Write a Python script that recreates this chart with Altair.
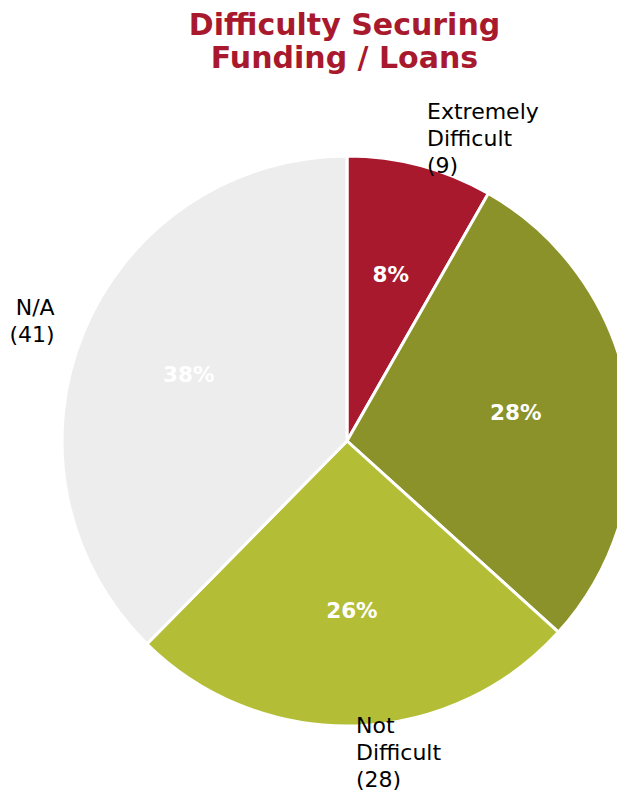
import altair as alt
import pandas as pd

categories = ["Extremely Difficult", "Somewhat Difficult", "Not Difficult", "N/A"]
counts = [9, 31, 28, 41]
colors = ["#A8192E", "#8A9229", "#B3BD35", "#EDEDED"]
outer_labels = ["Extremely\nDifficult\n(9)", "", "Not\nDifficult\n(28)", "N/A\n(41)"]
label_side = ["right", "right", "right", "left"]

total = sum(counts)
df = pd.DataFrame({
    "idx": list(range(len(categories))),
    "category": categories,
    "count": counts,
    "pct": [f"{round(c / total * 100)}%" for c in counts],
    "outer": outer_labels,
    "side": label_side,
})

CX, CY = 339, 353
R = 285
FONT = "DejaVu Sans"
LH = 27

base = alt.Chart(df).encode(
    theta=alt.Theta("count:Q", stack=True),
    order=alt.Order("idx:Q"),
    x=alt.value(CX),
    y=alt.value(CY),
)

pie = base.mark_arc(outerRadius=R, stroke="white", strokeWidth=3).encode(
    color=alt.Color("category:N", scale=alt.Scale(domain=categories, range=colors), legend=None)
)

pct = base.mark_text(radius=R * 0.6, font=FONT, fontSize=21.5, fontWeight="bold",
                     color="white").encode(text="pct:N")

right_lbl = base.mark_text(radius=312, font=FONT, fontSize=22, align="left",
                           baseline="middle", lineBreak="\n", lineHeight=LH,
                           dy=-LH, color="black").encode(
    text=alt.condition("datum.side == 'right'", "outer:N", alt.value(""))
)
left_lbl = base.mark_text(radius=316, font=FONT, fontSize=22, align="right",
                          baseline="middle", lineBreak="\n", lineHeight=LH,
                          dy=-LH / 2, color="black").encode(
    text=alt.condition("datum.side == 'left'", "outer:N", alt.value(""))
)

chart = alt.layer(pie, pct, right_lbl, left_lbl).properties(
    width=609,
    height=705,
    autosize=alt.AutoSizeParams(type="none"),
    padding={"left": 0, "right": 0, "top": 80, "bottom": 0},
    title=alt.TitleParams(
        text=["Difficulty Securing", "Funding / Loans"],
        font=FONT, fontSize=30, fontWeight="bold", color="#A8192E",
        anchor="middle", dx=32, offset=14, lineHeight=33,
    ),
).configure_view(stroke=None)

chart.save("out.html", embed_options={"renderer": "svg", "actions": False})
